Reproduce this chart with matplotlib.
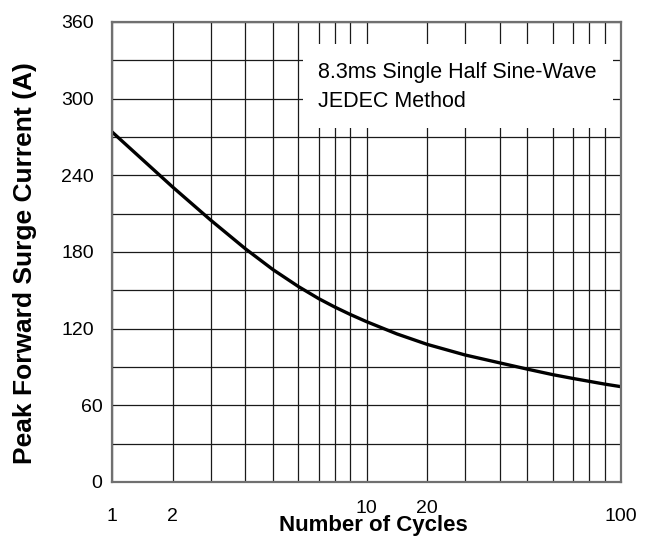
import numpy as np
import matplotlib
matplotlib.use('Agg')
import matplotlib.pyplot as plt
from matplotlib.patches import Rectangle

# Data
cycles = [1, 1.5, 2, 3, 4, 5, 6, 7, 8, 9, 10, 15, 20, 30, 40, 50, 60, 70, 80, 90, 100]
current = [274, 252.4, 230.8, 205, 182.5, 166.2, 153, 143.5, 137, 131.1, 125.5,
           115.9, 107.7, 99.4, 93.2, 88.3, 84, 81, 78.8, 76.6, 74.6]

x_ticks = [1, 2, 10, 20, 100]
x_tick_labels = ['1', '2', '10', '20', '100']
y_ticks = [0, 60, 120, 180, 240, 300, 360]

# the datasheet grid is not a true log grid: position of 1..10 inside one decade
grid_values = [1, 2, 3, 4, 5, 6, 7, 8, 9, 10]
grid_frac = [0, 0.2386, 0.3875, 0.5243, 0.6326, 0.7322, 0.8123, 0.8746, 0.9364, 1.0]

knots = np.array(grid_values + [v * 10 for v in grid_values[1:]], dtype=float)
knot_pos = np.array(grid_frac + [1 + f for f in grid_frac[1:]])


def fwd(v):
    return np.interp(v, knots, knot_pos)


def inv(p):
    return np.interp(p, knot_pos, knots)


plt.rcParams['font.family'] = ['Liberation Sans', 'DejaVu Sans']

fig = plt.figure(figsize=(6.52, 5.38), dpi=100)
ax = fig.add_axes([112 / 652, 1 - 482 / 538, 509 / 652, 460 / 538])

ax.set_xscale('function', functions=(fwd, inv))
ax.set_xlim(1, 100)
ax.set_ylim(0, 360)

# grid
ax.set_xticks(list(knots), minor=True)
ax.set_yticks(list(range(0, 361, 30)), minor=True)
ax.set_xticks(x_ticks)
ax.set_xticklabels(x_tick_labels)
ax.set_yticks(y_ticks)
ax.grid(which='both', color='#1a1a1a', linewidth=0.9, zorder=1)
ax.tick_params(which='both', length=0)
ax.tick_params(axis='x', labelsize=14, pad=19)
ax.tick_params(axis='y', labelsize=14, pad=13)

# the 10 and 20 labels sit a bit higher, 60 and 0 further right
for t, lbl in zip(ax.xaxis.get_major_ticks(), x_tick_labels):
    if lbl in ('10', '20'):
        t.set_pad(13)
for t, v in zip(ax.yaxis.get_major_ticks(), y_ticks):
    if v in (0, 60):
        t.set_pad(7)

for s in ax.spines.values():
    s.set_color('#707070')
    s.set_linewidth(1.6)
    s.set_zorder(5)

ax.plot(cycles, current, color='black', linewidth=2.4, zorder=4,
        solid_capstyle='butt', solid_joinstyle='round')

# white label box
ax.add_patch(Rectangle((0.375, 0.7696), 0.609, 0.1826, transform=ax.transAxes,
                       facecolor='white', edgecolor='none', zorder=3))
ax.text(0.4048, 0.912, '8.3ms Single Half Sine-Wave\nJEDEC Method', transform=ax.transAxes,
        fontsize=15.5, va='top', ha='left', linespacing=1.45, zorder=6)

ax.set_xlabel('Number of Cycles', fontsize=16, fontweight='bold')
ax.xaxis.set_label_coords(0.513, -0.071)
ax.set_ylabel('Peak Forward Surge Current (A)', fontsize=19, fontweight='bold')
ax.yaxis.set_label_coords(-0.147, 0.475)

fig.savefig('out.png', dpi=100)
